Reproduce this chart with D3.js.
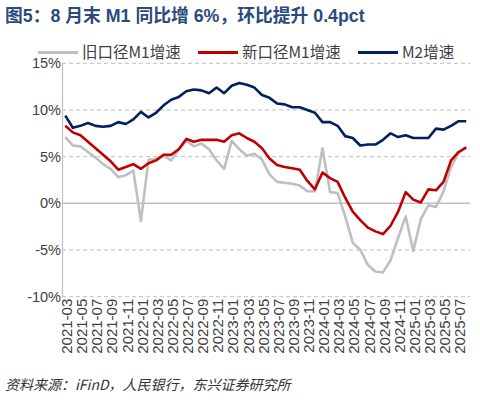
<!DOCTYPE html>
<html>
<head>
<meta charset="utf-8">
<script src="https://cdn.jsdelivr.net/npm/d3@7"></script>
<style>
  html, body { margin: 0; padding: 0; background: #fff; }
  svg { display: block; }
</style>
</head>
<body>
<svg id="chart" width="480" height="400"></svg>
<script>
// ---------- data ----------
const months = [
  "2021-03","2021-04","2021-05","2021-06","2021-07","2021-08","2021-09","2021-10","2021-11","2021-12",
  "2022-01","2022-02","2022-03","2022-04","2022-05","2022-06","2022-07","2022-08","2022-09","2022-10","2022-11","2022-12",
  "2023-01","2023-02","2023-03","2023-04","2023-05","2023-06","2023-07","2023-08","2023-09","2023-10","2023-11","2023-12",
  "2024-01","2024-02","2024-03","2024-04","2024-05","2024-06","2024-07","2024-08","2024-09","2024-10","2024-11","2024-12",
  "2025-01","2025-02","2025-03","2025-04","2025-05","2025-06","2025-07","2025-08"
];
const oldM1 = [
  7.1, 6.2, 6.1, 5.5, 4.9, 4.2, 3.7, 2.8, 3.0, 3.5,
  -1.9, 4.7, 4.7, 5.1, 4.6, 5.8, 6.7, 6.1, 6.4, 5.8, 4.6, 3.7,
  6.7, 5.8, 5.1, 5.3, 4.7, 3.1, 2.3, 2.2, 2.1, 1.9, 1.3, 1.3,
  5.9, 1.2, 1.1, -1.4, -4.2, -5.0, -6.6, -7.3, -7.4, -6.1, -3.7, -1.4,
  -5.1, -1.7, -0.2, -0.4, 1.3, 3.9, 5.4, 6.0
];
const newM1 = [
  8.3, 7.6, 7.3, 6.6, 5.9, 5.2, 4.5, 3.6, 3.9, 4.2,
  3.7, 4.3, 4.6, 5.2, 5.2, 5.8, 6.9, 6.6, 6.8, 6.8, 6.8, 6.6,
  7.3, 7.5, 7.0, 6.6, 5.9, 4.8, 4.1, 3.9, 3.75, 3.6, 2.4, 1.5,
  3.3, 2.7, 2.3, 0.6, -0.9, -1.8, -2.6, -3.0, -3.3, -2.4, -0.9, 1.2,
  0.4, 0.1, 1.5, 1.4, 2.3, 4.6, 5.5, 6.0
];
const m2 = [
  9.4, 8.1, 8.3, 8.6, 8.3, 8.2, 8.3, 8.7, 8.5, 9.0,
  9.8, 9.2, 9.7, 10.5, 11.1, 11.4, 12.0, 12.2, 12.1, 11.8, 12.4, 11.8,
  12.6, 12.9, 12.7, 12.4, 11.6, 11.3, 10.7, 10.6, 10.3, 10.3, 10.0, 9.7,
  8.7, 8.7, 8.3, 7.2, 7.0, 6.2, 6.3, 6.3, 6.8, 7.5, 7.1, 7.3,
  7.0, 7.0, 7.0, 8.0, 7.9, 8.3, 8.8, 8.8
];
const seriesNames = ["旧口径M1增速", "新口径M1增速", "M2增速"];
const yTicks = [-10, -5, 0, 5, 10, 15];
const tickMonths = months.filter((d, i) => i % 2 === 0);
const titleText = "图5：8 月末 M1 同比增 6%，环比提升 0.4pct";
const sourceText = "资料来源：iFinD，人民银行，东兴证券研究所";

// ---------- layout ----------
const svg = d3.select("#chart");
const plot = { left: 62, right: 470, top: 63.3, bottom: 296.7 };
const colors = ["#BFBFBF", "#C00000", "#002060"];
const fontCJK = "'Noto Sans CJK SC', 'Noto Sans', sans-serif";
const fontLatin = "'Liberation Sans', Arial, 'Noto Sans CJK SC', sans-serif";

const x = d3.scaleBand().domain(months).range([plot.left - 0.5, plot.right]).padding(0);
const xc = d => x(d) + x.bandwidth() / 2;
const y = d3.scaleLinear().domain([-10, 15]).range([plot.bottom, plot.top]);

// title
svg.append("text")
  .attr("x", 5).attr("y", 22)
  .attr("font-family", fontLatin)
  .attr("font-weight", "bold")
  .attr("font-size", 17.8)
  .attr("fill", "#2B4A7E")
  .text(titleText);

// gridlines
const grid = svg.append("g");
yTicks.forEach(t => {
  grid.append("line")
    .attr("x1", plot.left).attr("x2", plot.right)
    .attr("y1", y(t)).attr("y2", y(t))
    .attr("stroke", "#BFBFBF")
    .attr("stroke-width", t === 0 ? 1.5 : 1)
    .attr("stroke-dasharray", t === 0 ? null : "4,3");
});

// y axis
const yAxis = d3.axisLeft(y).tickValues(yTicks).tickSize(0).tickPadding(1)
  .tickFormat(d => d + "%");
const gy = svg.append("g").attr("transform", `translate(${plot.left},0)`).call(yAxis);
gy.select(".domain").attr("stroke", "#BFBFBF").attr("stroke-width", 1.2);
gy.selectAll("text")
  .attr("font-family", fontLatin)
  .attr("font-size", 14.5)
  .attr("fill", "#404040");

// x axis labels
const xAxis = d3.axisBottom(x).tickValues(tickMonths).tickSize(0);
const gx = svg.append("g").attr("transform", `translate(0,${plot.bottom})`).call(xAxis);
gx.select(".domain").remove();
gx.selectAll(".tick text")
  .attr("font-family", fontLatin)
  .attr("font-size", 15)
  .attr("fill", "#404040")
  .attr("text-anchor", "end")
  .attr("transform", "rotate(-90)")
  .attr("x", -2)
  .attr("y", 0)
  .attr("dy", "0.45em");

// lines
const allSeries = [oldM1, newM1, m2];
const lineGen = d3.line().x((d, i) => xc(months[i])).y(d => y(d));
allSeries.forEach((s, k) => {
  svg.append("path")
    .datum(s)
    .attr("d", lineGen)
    .attr("fill", "none")
    .attr("stroke", colors[k])
    .attr("stroke-width", 2.6)
    .attr("stroke-linejoin", "round");
});

// legend
const legendPos = [38, 198, 358];
const legend = svg.append("g");
seriesNames.forEach((name, k) => {
  legend.append("line")
    .attr("x1", legendPos[k]).attr("x2", legendPos[k] + 40)
    .attr("y1", 52.5).attr("y2", 52.5)
    .attr("stroke", colors[k]).attr("stroke-width", 3);
  legend.append("text")
    .attr("x", legendPos[k] + 44).attr("y", 53)
    .attr("dy", "0.35em")
    .attr("font-family", fontCJK)
    .attr("font-size", 15.5)
    .attr("fill", "#404040")
    .text(name);
});

// source
svg.append("text")
  .attr("x", 5).attr("y", 390)
  .attr("font-family", fontCJK)
  .attr("font-style", "italic")
  .attr("font-size", 14)
  .attr("fill", "#333333")
  .text(sourceText);
</script>
</body>
</html>
